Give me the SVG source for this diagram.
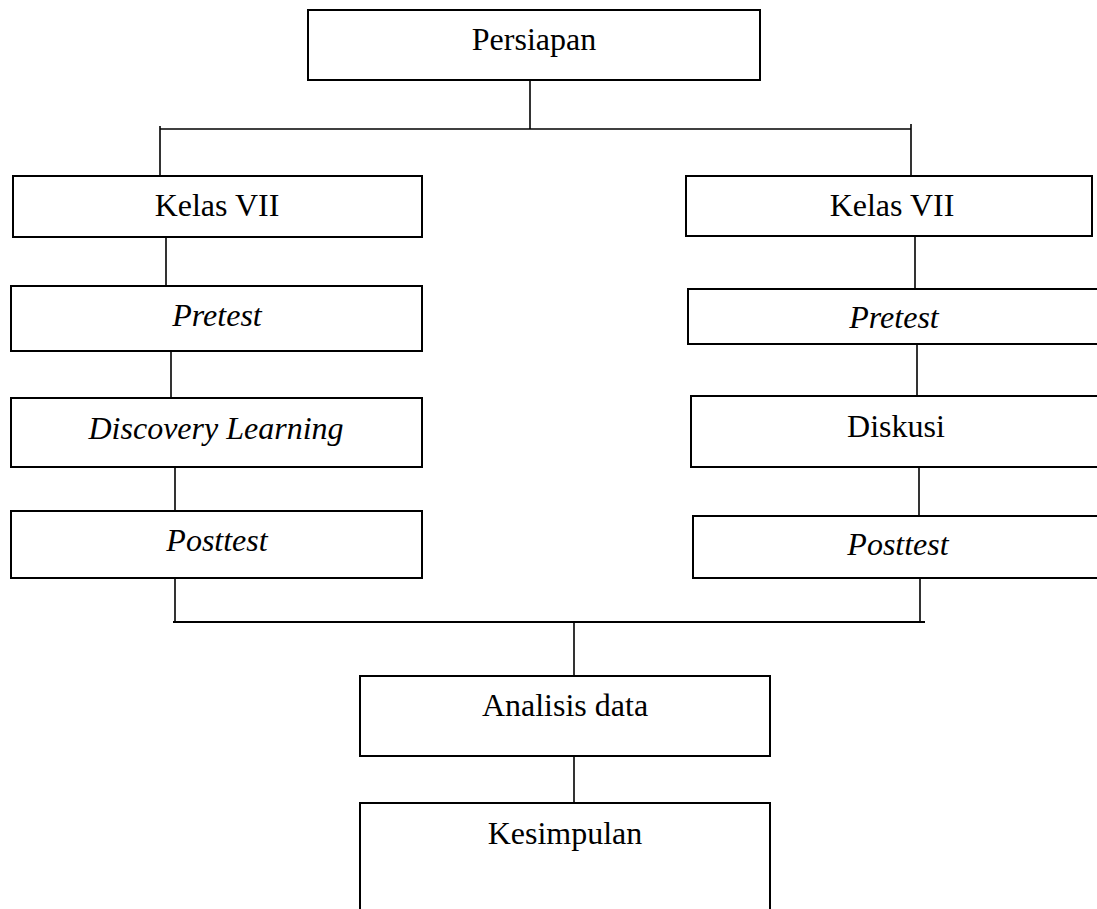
<svg xmlns="http://www.w3.org/2000/svg" width="1097" height="909" viewBox="0 0 1097 909">
<style>
.box{fill:#fff;stroke:#000;stroke-width:2}
.t{font-family:"Liberation Serif","Times New Roman",serif;font-size:32px;fill:#000;text-anchor:middle}
.i{font-style:italic}
.c{stroke:#000;stroke-width:1.6;fill:none}
</style>
<rect width="1097" height="909" fill="#fff"/>
<g id="connectors">
<line class="c" x1="530" y1="80" x2="530" y2="129"/>
<line class="c" x1="160" y1="129" x2="911" y2="129"/>
<line class="c" x1="160" y1="126" x2="160" y2="176"/>
<line class="c" x1="911" y1="124" x2="911" y2="176"/>
<line class="c" x1="166" y1="237" x2="166" y2="286"/>
<line class="c" x1="171" y1="351" x2="171" y2="398"/>
<line class="c" x1="175" y1="467" x2="175" y2="511"/>
<line class="c" x1="175" y1="578" x2="175" y2="622"/>
<line class="c" x1="915" y1="237" x2="915" y2="289"/>
<line class="c" x1="917" y1="344" x2="917" y2="396"/>
<line class="c" x1="919" y1="467" x2="919" y2="516"/>
<line class="c" x1="920" y1="578" x2="920" y2="622"/>
<line class="c" x1="173" y1="622" x2="925" y2="622" style="stroke-width:2"/>
<line class="c" x1="574" y1="622" x2="574" y2="676"/>
<line class="c" x1="574" y1="756" x2="574" y2="803"/>
</g>
<g id="persiapan"><rect class="box" x="308" y="10" width="452" height="70"/><text class="t" x="534" y="50">Persiapan</text></g>
<g id="kelas-left"><rect class="box" x="13" y="176" width="409" height="61"/><text class="t" x="217" y="216">Kelas VII</text></g>
<g id="kelas-right"><rect class="box" x="686" y="176" width="406" height="60"/><text class="t" x="892" y="216">Kelas VII</text></g>
<g id="pretest-left"><rect class="box" x="11" y="286" width="411" height="65"/><text class="t i" x="217" y="326">Pretest</text></g>
<g id="pretest-right"><rect class="box" x="688" y="289" width="420" height="55"/><text class="t i" x="894" y="328">Pretest</text></g>
<g id="discovery"><rect class="box" x="11" y="398" width="411" height="69"/><text class="t i" x="216" y="439">Discovery Learning</text></g>
<g id="diskusi"><rect class="box" x="691" y="396" width="420" height="71"/><text class="t" x="896" y="437">Diskusi</text></g>
<g id="posttest-left"><rect class="box" x="11" y="511" width="411" height="67"/><text class="t i" x="217" y="551">Posttest</text></g>
<g id="posttest-right"><rect class="box" x="693" y="516" width="420" height="62"/><text class="t i" x="898" y="555">Posttest</text></g>
<g id="analisis"><rect class="box" x="360" y="676" width="410" height="80"/><text class="t" x="565" y="716">Analisis data</text></g>
<g id="kesimpulan"><rect class="box" x="360" y="803" width="410" height="120"/><text class="t" x="565" y="844">Kesimpulan</text></g>
</svg>
